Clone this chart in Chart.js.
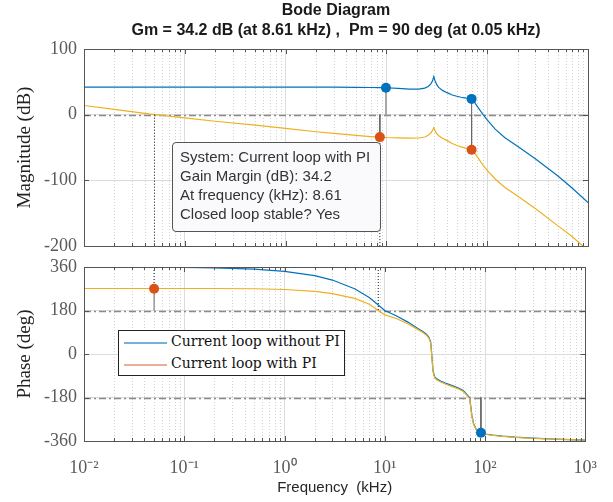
<!DOCTYPE html>
<html>
<head>
<meta charset="utf-8">
<script src="https://cdn.jsdelivr.net/npm/chart.js@4.4.0/dist/chart.umd.min.js"></script>
<style>
  html, body { margin: 0; padding: 0; background: #fff; }
  #wrap { position: relative; width: 613px; height: 502px; overflow: hidden; }
  canvas { position: absolute; left: 0; }
  #magChart { top: 0; }
  #phaseChart { top: 247px; }
  .title { position: absolute; left: 84px; width: 504px; text-align: center; line-height: 18px;
           font: bold 16px "Liberation Sans", Arial, sans-serif; color: #1a1a1a; white-space: pre; }
  #datatip { position: absolute; left: 172px; top: 142px; width: 200px; height: 84px; padding: 4px 0 0 7px;
             border: 1px solid #555; border-radius: 4px; background: rgba(250, 250, 253, 0.94);
             font: 15px "Liberation Sans", Arial, sans-serif; color: #333; line-height: 19px; white-space: nowrap; }
  #legend { position: absolute; left: 118px; top: 330px; width: 225px; height: 44px;
            border: 1px solid #222; background: #fff; }
  .row { position: absolute; left: 0; height: 20px; width: 225px; }
  .row .ln { position: absolute; left: 5px; top: 9px; width: 43px; border-top: 2px solid; }
  .row .tx { position: absolute; left: 52px; top: 0; line-height: 20px;
             font: 14px "DejaVu Serif", "Liberation Serif", serif; color: #111; white-space: nowrap; }
</style>
</head>
<body>
<div id="wrap">
  <canvas id="magChart" width="613" height="266"></canvas>
  <canvas id="phaseChart" width="613" height="255"></canvas>
  <div class="title" style="top:1px">Bode Diagram</div>
  <div class="title" style="top:21px">Gm = 34.2 dB (at 8.61 kHz) ,  Pm = 90 deg (at 0.05 kHz)</div>
  <div id="datatip">
    System: Current loop with PI<br>
    Gain Margin (dB): 34.2<br>
    At frequency (kHz): 8.61<br>
    Closed loop stable? Yes
  </div>
  <div id="legend">
    <div class="row" style="top:2px"><div class="ln" style="border-color:#72b3de"></div><div class="tx">Current loop without PI</div></div>
    <div class="row" style="top:24px"><div class="ln" style="border-color:#efab9c"></div><div class="tx">Current loop with PI</div></div>
  </div>
</div>
<script>
// --- 資料 (kHz / dB / deg) ---
const freq      = [0.01, 0.02, 0.05, 0.1, 0.2, 0.5, 1, 2, 3, 5, 7, 8.61, 10, 13, 17, 21, 24, 26, 27.5, 28.7, 29.5, 30.3, 31.5, 33, 36, 40, 45, 50, 55, 60, 63, 66, 70, 72, 74, 77, 82, 91, 100, 120, 150, 200, 300, 500, 700, 1000];
const magNoPI   = [42, 42, 42, 42, 42, 42, 42, 42, 41.8, 41.6, 41.4, 41.2, 41, 40, 38.8, 38.8, 40.5, 43, 46.5, 51.5, 58, 52, 46, 41.5, 37, 33.5, 30, 28, 26.5, 25.5, 25, 24.5, 24, 22.5, 20, 16, 10, 0, -8, -22, -35, -48, -67, -93, -112, -134];
const magPI     = [14, 8, 0, -5, -10, -16, -21, -26, -28.5, -31.5, -33.3, -34.2, -34.8, -35.3, -35.8, -35.5, -34, -31.5, -28, -24, -20, -24, -28.5, -32, -36, -39.5, -44, -47, -49, -50.5, -51.5, -52.5, -53.5, -55, -57.5, -61, -67, -77, -85, -98, -111, -124, -143, -169, -186, -207];
const phaseNoPI = [360, 360, 359, 358, 356, 351, 342, 324, 306, 270, 234, 203, 180, 158, 132, 108, 93, 82, 70, 50, -10, -70, -95, -103, -112, -120, -128, -135, -142, -150, -158, -168, -180, -215, -255, -290, -312, -326, -331, -336, -340, -344, -348, -352, -354, -356];
const phasePI   = [271, 271, 271, 271, 271, 270, 267, 259, 250, 230, 206, 180, 162, 147, 125, 103, 89, 78, 66, 46, -14, -74, -99, -107, -116, -124, -132, -139, -146, -154, -162, -172, -184, -219, -259, -293, -314, -327, -332, -337, -341, -345, -349, -352, -354, -357];

// margin markers
const gmFreqNoPI = [9.9, 70];
const gmMagNoPI  = [41, 24];
const gmFreqPI   = [8.61, 70];
const gmMagPI    = [-34.2, -53.5];
const pmFreqPI   = [0.05];
const pmPhasePI  = [270];
const pmFreqNoPI = [91];
const pmPhaseNoPI = [-326];

// axes
const decades    = [0.01, 0.1, 1, 10, 100, 1000];
const decadeExps = [-2, -1, 0, 1, 2, 3];
const minorSteps = [2, 3, 4, 5, 6, 7, 8, 9];
const magTicks   = [-200, -100, 0, 100];
const phaseTicks = [-360, -180, 0, 180, 360];
const magRefLines   = [0];
const phaseRefLines = [-180, 180];

const BLUE = '#0072BD';
const YELLOW = '#EDB120';
const ORANGE = '#D95319';

const SUP = { '-': '\u207B', '0': '\u2070', '1': '\u00B9', '2': '\u00B2', '3': '\u00B3' };
const toSup = n => String(n).split('').map(c => SUP[c]).join('');
const toPoints = (xs, ys) => xs.map((x, i) => ({ x, y: ys[i] }));

// --- 格線 / 參考線 / 外框 ---
const bodeExtras = {
    id: 'bodeExtras',
    beforeDatasetsDraw(chart, args, opts) {
        const { ctx, chartArea: a, scales: { x, y } } = chart;
        ctx.save();
        ctx.lineWidth = 1;
        ctx.strokeStyle = '#d2d2d2';
        ctx.setLineDash([1, 2]);
        decades.slice(0, -1).forEach(d => minorSteps.forEach(m => {
            const px = Math.round(x.getPixelForValue(d * m)) + 0.5;
            ctx.beginPath(); ctx.moveTo(px, a.top); ctx.lineTo(px, a.bottom); ctx.stroke();
        }));
        ctx.strokeStyle = '#8a8a8a';
        ctx.lineWidth = 1.3;
        ctx.setLineDash([7, 3, 2, 3]);
        opts.refLines.forEach(v => {
            const py = Math.round(y.getPixelForValue(v)) + 0.5;
            ctx.beginPath(); ctx.moveTo(a.left, py); ctx.lineTo(a.right, py); ctx.stroke();
        });
        ctx.restore();
    },
    afterDraw(chart) {
        const { ctx, chartArea: a, scales: { x, y } } = chart;
        ctx.save();
        ctx.strokeStyle = '#555';
        ctx.lineWidth = 1;
        ctx.strokeRect(Math.round(a.left) + 0.5, Math.round(a.top) + 0.5, Math.round(a.width), Math.round(a.height));
        // 內側刻度
        ctx.beginPath();
        decades.forEach((d, i) => {
            const steps = i < decades.length - 1 ? [1, ...minorSteps] : [1];
            steps.forEach(m => {
                const px = Math.round(x.getPixelForValue(d * m)) + 0.5;
                const len = m === 1 ? 5 : 3;
                ctx.moveTo(px, a.top); ctx.lineTo(px, a.top + len);
                ctx.moveTo(px, a.bottom); ctx.lineTo(px, a.bottom - len);
            });
        });
        y.ticks.forEach(t => {
            const py = Math.round(y.getPixelForValue(t.value)) + 0.5;
            ctx.moveTo(a.left, py); ctx.lineTo(a.left + 5, py);
            ctx.moveTo(a.right, py); ctx.lineTo(a.right - 5, py);
        });
        ctx.stroke();
        ctx.restore();
    }
};

function curve(xs, ys, color, order) {
    return { data: toPoints(xs, ys), borderColor: color, borderWidth: 1.2, pointRadius: 0, tension: 0, order };
}
function segment(x0, y0, x1, y1, color, dash) {
    return { data: [{ x: x0, y: y0 }, { x: x1, y: y1 }], borderColor: color, borderWidth: 1,
             borderDash: dash || [], pointRadius: 0, order: 2 };
}
function dots(xs, ys, color) {
    return { data: toPoints(xs, ys), showLine: false, pointRadius: 5, pointBackgroundColor: color,
             pointBorderWidth: 0, order: 1 };
}

function makeChart(canvasId, datasets, yMin, yMax, yTicks, yTitle, refLines, bottom) {
    const canvas = document.getElementById(canvasId);
    const ctx = canvas.getContext('2d');
    return new Chart(ctx, {
        type: 'line',
        data: { datasets },
        plugins: [bodeExtras],
        options: {
            responsive: false, animation: false, devicePixelRatio: 1, events: [],
            layout: { padding: bottom ? { top: 20, right: 25, bottom: 0, left: 0 } : { top: 49, right: 25, bottom: 20, left: 0 } },
            plugins: {
                legend: { display: false },
                tooltip: { enabled: false },
                bodeExtras: { refLines }
            },
            scales: {
                x: {
                    type: 'logarithmic', min: decades[0], max: decades[decades.length - 1],
                    afterBuildTicks: s => { s.ticks = decades.map(v => ({ value: v, major: true })); },
                    afterFit: s => { s.height = bottom ? 61 : 0; },
                    grid: { color: '#dcdcdc', drawTicks: false },
                    border: { display: false },
                    ticks: {
                        display: bottom, autoSkip: false, maxRotation: 0, padding: 16, color: '#5a5a5a',
                        font: { family: '"Liberation Serif", serif', size: 18 },
                        callback: (v, i) => '10' + toSup(decadeExps[i])
                    },
                    title: {
                        display: bottom, text: 'Frequency  (kHz)', color: '#262626',
                        font: { family: '"Liberation Sans", Arial, sans-serif', size: 15 },
                        padding: { top: 0, bottom: 5 }
                    }
                },
                y: {
                    type: 'linear', min: yMin, max: yMax,
                    afterBuildTicks: s => { s.ticks = yTicks.map(v => ({ value: v })); },
                    afterFit: s => { s.width = 84; },
                    grid: { color: '#dcdcdc', drawTicks: false },
                    border: { display: false },
                    ticks: { padding: 7, color: '#5a5a5a', font: { family: '"Liberation Serif", serif', size: 18 } },
                    title: {
                        display: true, text: yTitle, color: '#222',
                        font: { family: '"Liberation Serif", serif', size: 19 },
                        padding: { top: 14, bottom: 0 }
                    }
                }
            }
        }
    });
}

// --- 幅值圖 ---
const magDatasets = [
    curve(freq, magNoPI, BLUE, 4),
    curve(freq, magPI, YELLOW, 3),
    ...gmFreqNoPI.map((f, i) => segment(f, 0, f, gmMagNoPI[i], '#666')),
    ...gmFreqPI.map((f, i) => segment(f, 0, f, gmMagPI[i], '#666')),
    segment(pmFreqPI[0], 0, pmFreqPI[0], magTicks[0], '#111', [1, 2]),
    segment(gmFreqPI[0], gmMagPI[0], gmFreqPI[0], magTicks[0], '#111', [1, 2]),
    dots(gmFreqNoPI, gmMagNoPI, BLUE),
    dots(gmFreqPI, gmMagPI, ORANGE)
];
makeChart('magChart', magDatasets, magTicks[0], magTicks[magTicks.length - 1], magTicks, 'Magnitude (dB)', magRefLines, false);

// --- 相位圖 ---
const phaseDatasets = [
    curve(freq, phaseNoPI, BLUE, 4),
    curve(freq, phasePI, YELLOW, 3),
    segment(pmFreqPI[0], 180, pmFreqPI[0], pmPhasePI[0], '#666'),
    segment(pmFreqNoPI[0], -180, pmFreqNoPI[0], pmPhaseNoPI[0], '#666'),
    segment(pmFreqPI[0], 360, pmFreqPI[0], pmPhasePI[0], '#111', [1, 2]),
    segment(gmFreqPI[0], 360, gmFreqPI[0], 180, '#111', [1, 2]),
    dots(pmFreqPI, pmPhasePI, ORANGE),
    dots(pmFreqNoPI, pmPhaseNoPI, BLUE)
];
makeChart('phaseChart', phaseDatasets, phaseTicks[0], phaseTicks[phaseTicks.length - 1], phaseTicks, 'Phase (deg)', phaseRefLines, true);
</script>
</body>
</html>
